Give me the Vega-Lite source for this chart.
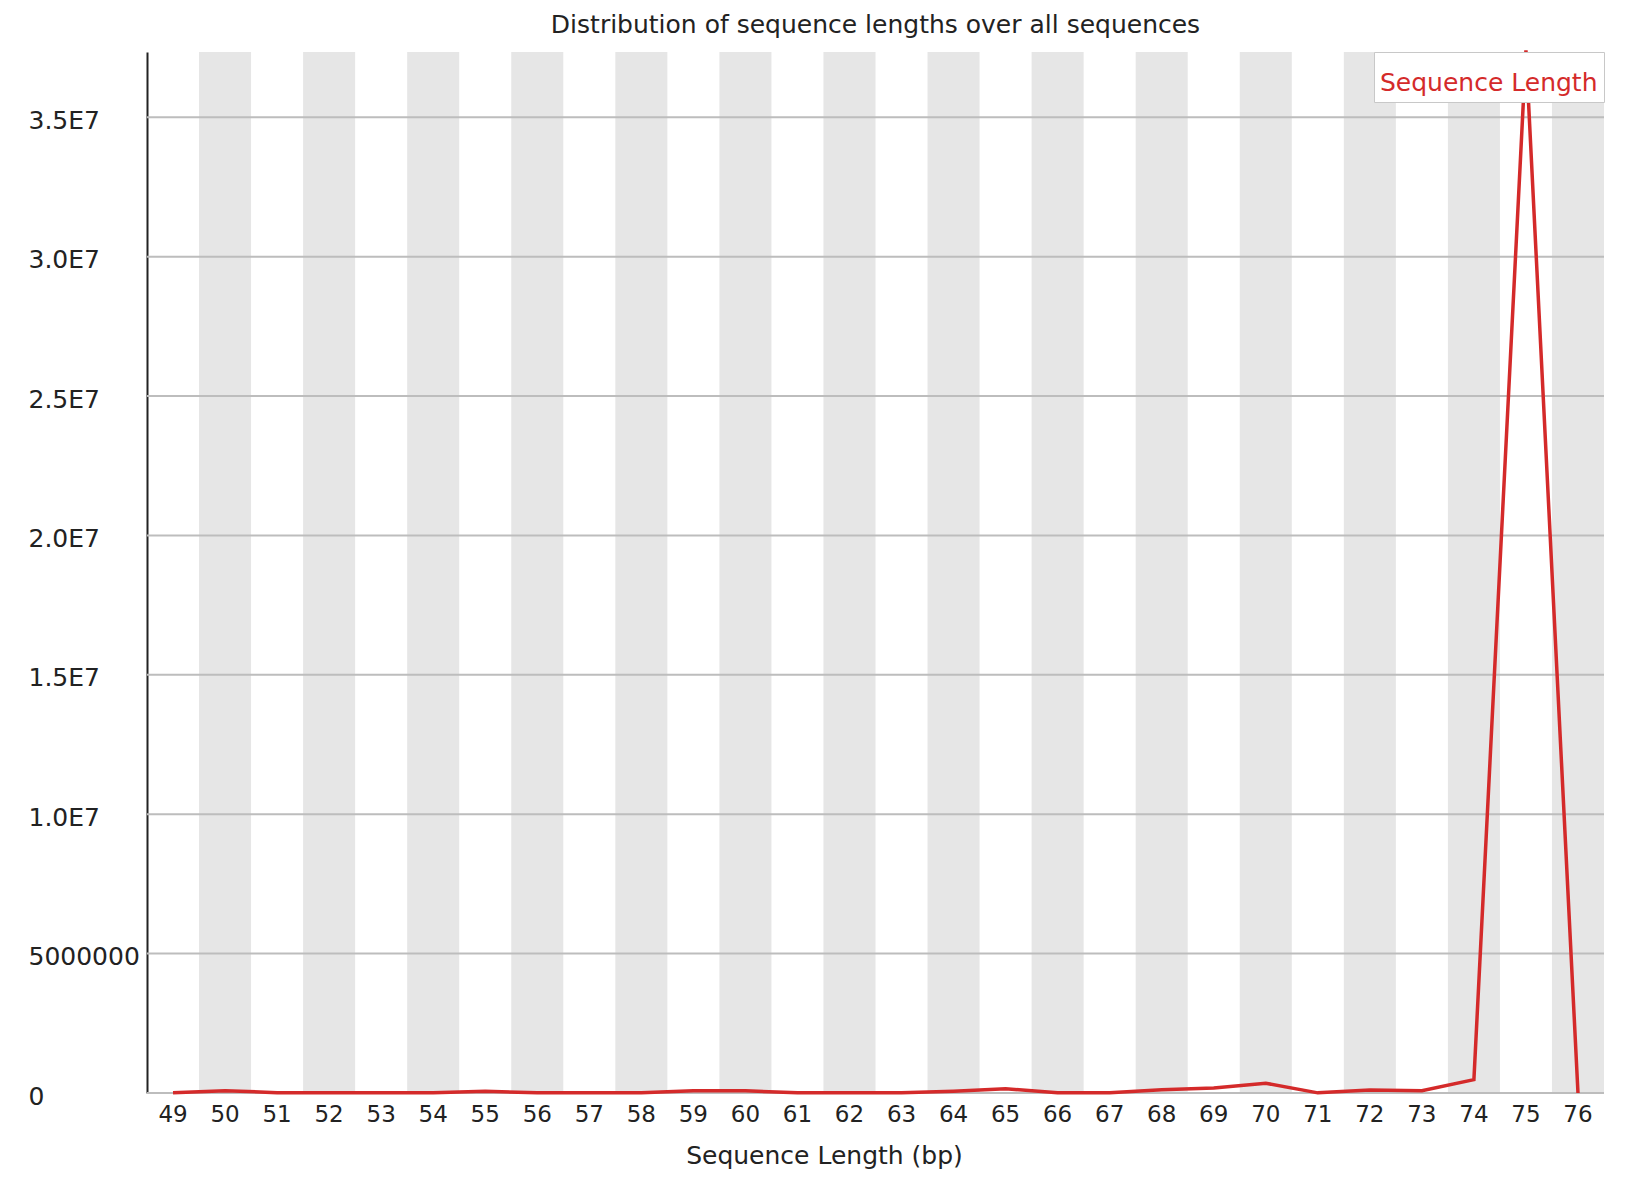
{
  "$schema": "https://vega.github.io/schema/vega-lite/v6.json",
  "autosize": "none",
  "width": 1457,
  "height": 1041,
  "padding": {"left": 147, "top": 52, "right": 36, "bottom": 93},
  "background": "white",
  "config": {
    "font": "DejaVu Sans",
    "view": {"stroke": null}
  },
  "title": {
    "text": "Distribution of sequence lengths over all sequences",
    "fontSize": 25,
    "fontWeight": "normal",
    "color": "#222222",
    "anchor": "middle",
    "offset": 5
  },
  "datasets": {
    "lengths": [
      {"length": 49, "count": 5000, "series": "Sequence Length"},
      {"length": 50, "count": 85000, "series": "Sequence Length"},
      {"length": 51, "count": 10000, "series": "Sequence Length"},
      {"length": 52, "count": 10000, "series": "Sequence Length"},
      {"length": 53, "count": 5000, "series": "Sequence Length"},
      {"length": 54, "count": 10000, "series": "Sequence Length"},
      {"length": 55, "count": 60000, "series": "Sequence Length"},
      {"length": 56, "count": 5000, "series": "Sequence Length"},
      {"length": 57, "count": 5000, "series": "Sequence Length"},
      {"length": 58, "count": 10000, "series": "Sequence Length"},
      {"length": 59, "count": 80000, "series": "Sequence Length"},
      {"length": 60, "count": 80000, "series": "Sequence Length"},
      {"length": 61, "count": 5000, "series": "Sequence Length"},
      {"length": 62, "count": 5000, "series": "Sequence Length"},
      {"length": 63, "count": 5000, "series": "Sequence Length"},
      {"length": 64, "count": 60000, "series": "Sequence Length"},
      {"length": 65, "count": 155000, "series": "Sequence Length"},
      {"length": 66, "count": 5000, "series": "Sequence Length"},
      {"length": 67, "count": 5000, "series": "Sequence Length"},
      {"length": 68, "count": 120000, "series": "Sequence Length"},
      {"length": 69, "count": 180000, "series": "Sequence Length"},
      {"length": 70, "count": 350000, "series": "Sequence Length"},
      {"length": 71, "count": 5000, "series": "Sequence Length"},
      {"length": 72, "count": 108000, "series": "Sequence Length"},
      {"length": 73, "count": 85000, "series": "Sequence Length"},
      {"length": 74, "count": 480000, "series": "Sequence Length"},
      {"length": 75, "count": 37400000, "series": "Sequence Length"},
      {"length": 76, "count": 0, "series": "Sequence Length"}
    ],
    "stripes": [
      {"length": 50}, {"length": 52}, {"length": 54}, {"length": 56}, {"length": 58},
      {"length": 60}, {"length": 62}, {"length": 64}, {"length": 66}, {"length": 68},
      {"length": 70}, {"length": 72}, {"length": 74}, {"length": 76}
    ],
    "gridlines": [
      {"value": 0}, {"value": 5000000}, {"value": 10000000}, {"value": 15000000},
      {"value": 20000000}, {"value": 25000000}, {"value": 30000000}, {"value": 35000000}
    ]
  },
  "layer": [
    {
      "data": {"name": "stripes"},
      "mark": {"type": "bar", "color": "#e6e6e6"},
      "encoding": {
        "x": {
          "field": "length",
          "type": "ordinal",
          "scale": {"type": "band", "paddingInner": 0, "paddingOuter": 0,
            "domain": [49,50,51,52,53,54,55,56,57,58,59,60,61,62,63,64,65,66,67,68,69,70,71,72,73,74,75,76]},
          "axis": {
            "title": "Sequence Length (bp)",
            "titleFontSize": 25,
            "titleFontWeight": "normal",
            "titleColor": "#222222",
            "titlePadding": 17,
            "titleX": 677,
            "titleAlign": "center",
            "titleAnchor": null,
            "labelFontSize": 23,
            "labelColor": "#222222",
            "labelAngle": 0,
            "labelPadding": 10,
            "ticks": false,
            "domain": false,
            "grid": false
          }
        }
      }
    },
    {
      "data": {"name": "gridlines"},
      "mark": {"type": "rule", "color": "#bdbdbd", "strokeWidth": 2},
      "encoding": {
        "y": {"field": "value", "type": "quantitative"}
      }
    },
    {
      "data": {"name": "lengths"},
      "mark": {"type": "line", "strokeWidth": 3.5, "interpolate": "linear", "clip": false},
      "encoding": {
        "x": {"field": "length", "type": "ordinal"},
        "y": {
          "field": "count",
          "type": "quantitative",
          "scale": {"domain": [0, 37340000], "nice": false, "zero": true},
          "axis": {
            "title": null,
            "values": [0, 5000000, 10000000, 15000000, 20000000, 25000000, 30000000, 35000000],
            "labelExpr": "datum.value == 0 ? '0' : (datum.value == 5000000 ? '5000000' : format(datum.value / 10000000, '.1f') + 'E7')",
            "labelFontSize": 25,
            "labelColor": "#222222",
            "labelAlign": "left",
            "labelPadding": 119,
            "labelBaseline": "middle",
            "labelOffset": 3,
            "ticks": false,
            "grid": false,
            "domain": true,
            "domainColor": "#222222",
            "domainWidth": 2
          }
        },
        "color": {
          "field": "series",
          "type": "nominal",
          "scale": {"range": ["#d42a2a"]},
          "legend": {
            "title": " ",
            "titleFontSize": 10,
            "titlePadding": 2,
            "orient": "top-right",
            "offset": 0,
            "fillColor": "white",
            "strokeColor": "#c8c8c8",
            "padding": 6,
            "labelFontSize": 25,
            "labelLimit": 0,
            "labelColor": "#d42a2a",
            "labelOffset": -25,
            "symbolType": "square",
            "symbolSize": 1,
            "symbolStrokeWidth": 0,
            "symbolOpacity": 0
          }
        }
      }
    }
  ]
}
